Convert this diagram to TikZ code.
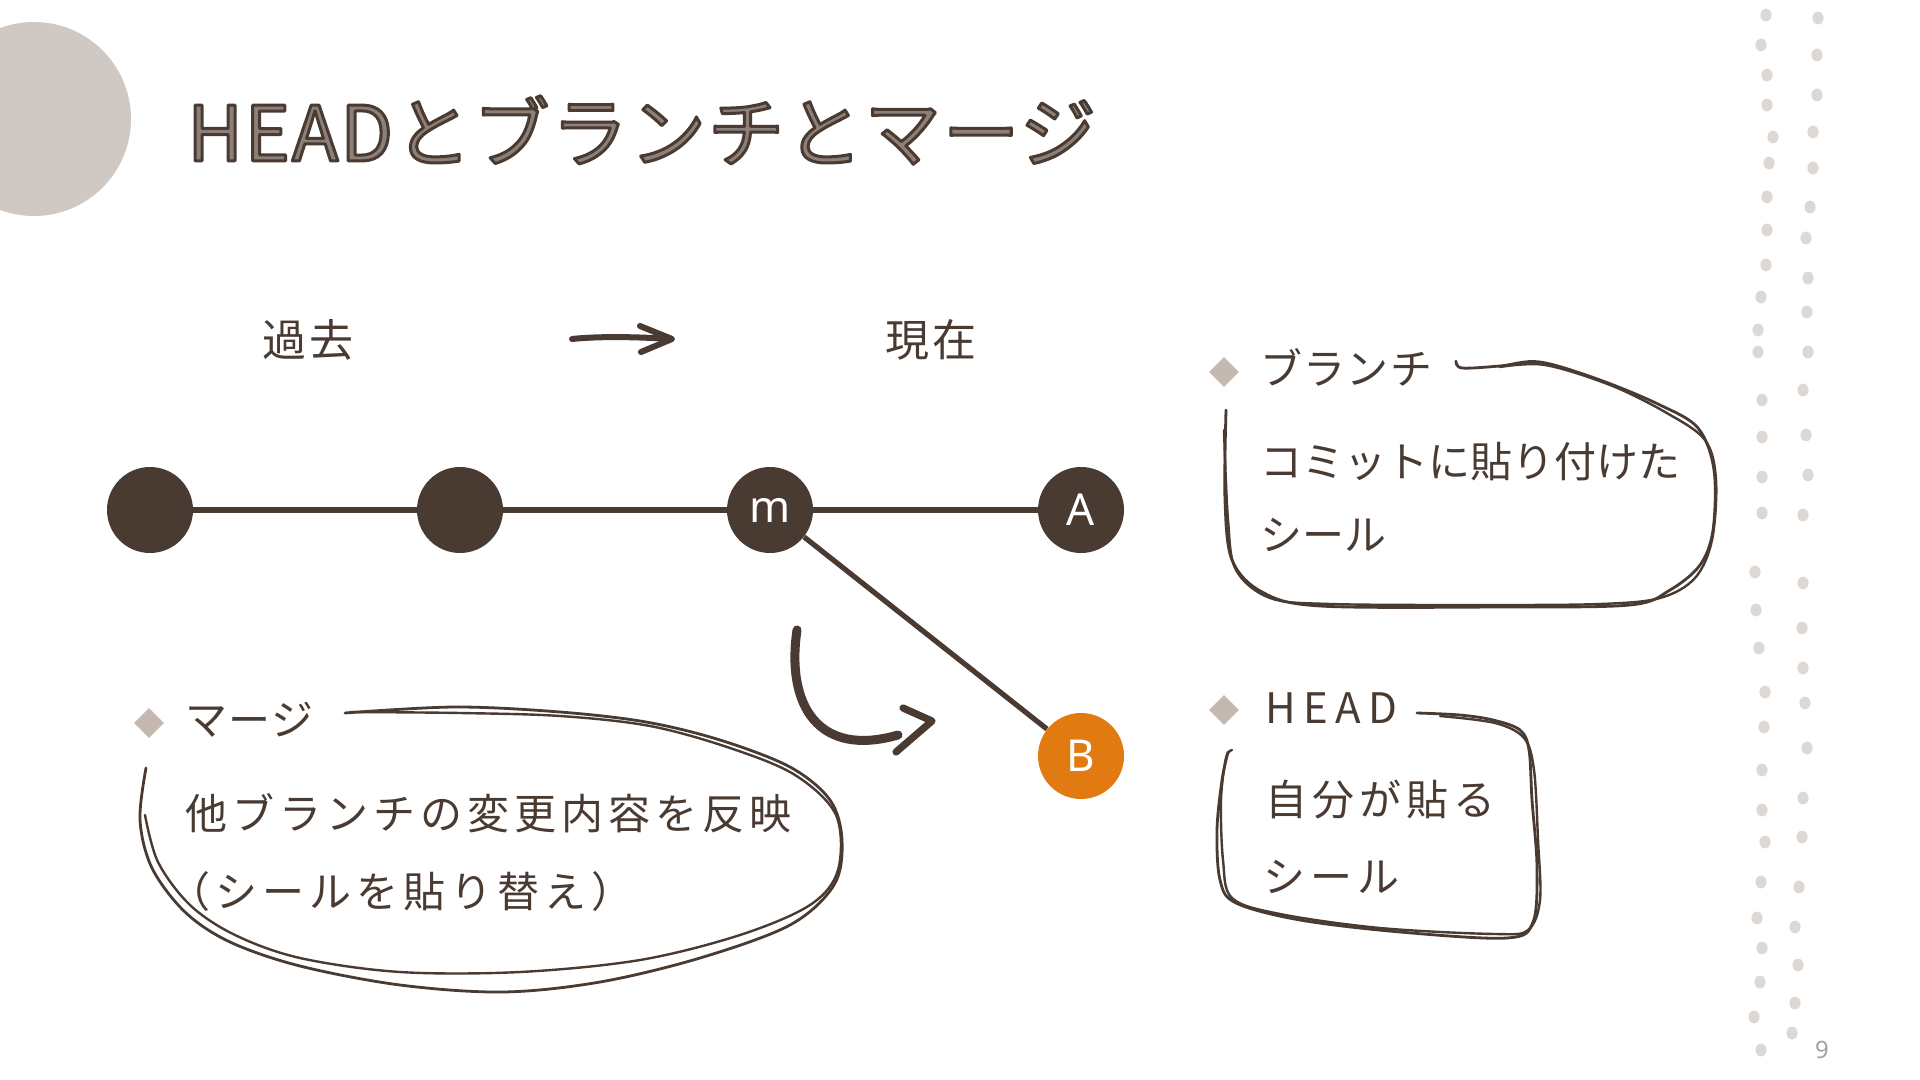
\documentclass[tikz,border=0pt]{standalone}
\usepackage{fontspec}
\usetikzlibrary{shapes.geometric}
\newfontfamily\lat{Noto Sans}
\newfontfamily\jpT[LetterSpace=3]{Noto Sans CJK JP}
\newfontfamily\jpA[LetterSpace=12]{Noto Sans CJK JP}
\newfontfamily\jpB[LetterSpace=0]{Noto Sans CJK JP}
\newfontfamily\jpH[LetterSpace=18]{Noto Sans CJK JP}
\newfontfamily\jpK[LetterSpace=3]{Noto Sans CJK JP}
\newfontfamily\jpC[LetterSpace=6]{Noto Sans CJK JP}
\definecolor{ink}{RGB}{73,58,50}
\definecolor{titlefill}{RGB}{140,128,121}
\definecolor{taupe}{RGB}{208,200,195}
\definecolor{bulletc}{RGB}{196,184,177}
\definecolor{dotc}{RGB}{221,216,212}
\definecolor{orng}{RGB}{226,122,18}
\definecolor{pgnum}{RGB}{165,160,156}
\newcommand{\outlinedtext}[1]{\special{pdf:literal direct 0.286 0.227 0.196 RG 1.5 w 1 j 2 Tr}#1\special{pdf:literal direct 0 Tr}}
\begin{document}
\begin{tikzpicture}[x=0.5pt,y=-0.5pt,
  commit/.style={circle, fill=ink, minimum size=43pt, inner sep=0pt, text=white, font=\fontsize{22}{26}\selectfont\lat},
  headc/.style={commit, fill=orng},
  edge/.style={draw=ink, line width=3pt},
  txtA/.style={anchor=west, inner sep=0pt, text=ink, font=\fontsize{21}{25}\selectfont\jpA},
  txtB/.style={anchor=west, inner sep=0pt, text=ink, font=\fontsize{21}{25}\selectfont\jpB},
  txtK/.style={anchor=west, inner sep=0pt, text=ink, font=\fontsize{21}{25}\selectfont\jpK},
  txtH/.style={anchor=west, inner sep=0pt, text=ink, font=\fontsize{21}{25}\selectfont\jpH},
  timelbl/.style={inner sep=0pt, text=ink, font=\fontsize{22}{26}\selectfont\jpC},
  bul/.style={diamond, fill=bulletc, minimum size=15pt, inner sep=0pt},
  hand/.style={draw=ink, line width=1.4pt, line cap=round, line join=round},
  sketch/.style={draw=ink, line cap=round, line join=round}
]
\useasboundingbox (0,0) rectangle (1920,1080);
\fill[white] (0,0) rectangle (1920,1080);

% decorative circle
\fill[taupe] (34,119) circle (48.5pt);

% dots at right
\foreach \x/\y in {1766/15,1761/45,1767/75,1767/105,1773/137,1769/163,1767/197,1767/230,1766/265,1761/297,1758/330,1758/352,1762/400,1762/437,1762/477,1762/513,
  1755/572,1756/610,1759/648,1765/692,1764/727,1762/770,1762/810,1765/842,1761/882,1757/918,1762/948,1760/982,1754/1017,1761/1050,
  1818/18,1817/55,1817/95,1813/132,1813/168,1810/207,1806/238,1808/278,1807/312,1808/352,1803/390,1806/435,1808/475,1803/515,
  1803/583,1802/628,1803/668,1805/703,1807/748,1803/798,1802/837,1799/887,1795/927,1798/965,1795/1003,1792/1033}
  \fill[dotc] (\x,\y) ellipse (2.8pt and 3.2pt);
\node[text=pgnum, inner sep=0pt, font=\fontsize{12}{14}\selectfont\lat] (pg) at (1822,1050) {9};

% title
\node[anchor=west, inner sep=0pt, text=titlefill, font=\fontsize{38}{44}\selectfont\jpT] (title) at (187,130) {\outlinedtext{HEADとブランチとマージ}};

% time labels
\node[timelbl] (past) at (308,340) {過去};
\node[timelbl] (now) at (931,340) {現在};
\draw[sketch, line width=3pt] (572,339) .. controls (600,336) and (640,337) .. (670,339);
\draw[sketch, line width=3pt] (640,326) -- (672,339) -- (641,352);

% commits
\node[commit] (c1) at (150,510) {};
\node[commit] (c2) at (460,510) {};
\node[commit] (m) at (770,510) {m};
\node[commit] (A) at (1081,510) {A};
\node[headc] (B) at (1081,756) {B};
\draw[edge] (c1) -- (c2);
\draw[edge] (c2) -- (m);
\draw[edge] (m) -- (A);
\draw[edge, line width=2.6pt] (m) -- (B);

% curved merge arrow
\draw[sketch, line width=4.5pt] (797,630) .. controls (786,705) and (818,758) .. (898,735);
\draw[sketch, line width=3.6pt] (903,708) -- (932,721) -- (896,752);

% branch note
\node[bul] (bB) at (1224,372) {};
\node[txtK] (tB) at (1260,367) {ブランチ};
\node[txtB] (tB1) at (1260,462) {コミットに貼り付けた};
\node[txtB] (tB2) at (1260,535) {シール};
\draw[hand] plot[smooth, tension=0.55] coordinates {(1456,361) (1462,368) (1500,366) (1540,362) (1600,380) (1660,405) (1698,428) (1714,470) (1713,530) (1700,565) (1670,590) (1630,605) (1500,607) (1320,606) (1262,592) (1232,560) (1225,500) (1226,410)};
\draw[hand, line width=1.2pt] plot[smooth, tension=0.55] coordinates {(1500,367) (1545,365) (1610,385) (1665,412) (1705,440) (1716,480) (1712,540) (1695,578) (1660,598) (1600,604) (1480,605) (1330,604) (1270,598) (1236,570) (1228,520) (1224,430)};

% HEAD note
\node[bul] (bH) at (1224,710) {};
\node[txtH] (tH) at (1265,708) {HEAD};
\node[txtA] (tH1) at (1265,800) {自分が貼る};
\node[txtA] (tH2) at (1263,877) {シール};
\draw[hand] plot[smooth, tension=0.55] coordinates {(1417,713) (1460,715) (1493,720) (1520,730) (1529,750) (1532,800) (1537,867) (1533,922) (1507,938) (1400,932) (1300,920) (1236,903) (1220,880) (1217,830) (1222,780) (1228,752)};
\draw[hand, line width=1.2pt] plot[smooth, tension=0.55] coordinates {(1440,716) (1495,723) (1524,738) (1534,770) (1538,840) (1540,900) (1528,930) (1495,934) (1380,928) (1280,914) (1232,898) (1223,860) (1221,800) (1226,758) (1232,750)};

% merge note
\node[bul] (bM) at (149,723) {};
\node[txtK] (tM) at (185,720) {マージ};
\node[txtA] (tM1) at (185,813) {他ブランチの変更内容を反映};
\node[txtA] (tM2) at (168,892) {（シールを貼り替え）};
\draw[hand] plot[smooth, tension=0.55] coordinates {(345,713) (455,707) (560,712) (646,722) (720,740) (790,767) (830,800) (842,840) (834,885) (790,925) (700,958) (600,982) (503,992) (400,985) (300,966) (230,942) (185,912) (152,868) (140,820) (146,768)};
\draw[hand, line width=1.2pt] plot[smooth, tension=0.55] coordinates {(350,712) (460,713) (560,716) (650,726) (730,748) (795,775) (836,815) (838,870) (810,905) (740,935) (640,960) (520,972) (400,972) (300,958) (235,935) (190,905) (158,862) (145,815)};
\end{tikzpicture}
\end{document}
